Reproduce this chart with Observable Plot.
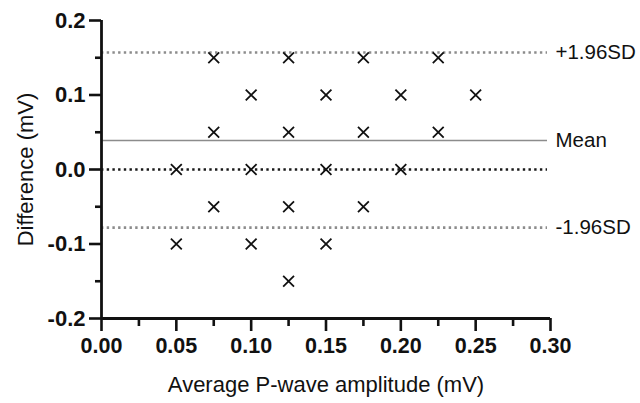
<!DOCTYPE html>
<html>
<head>
<meta charset="utf-8">
<script src="https://cdn.jsdelivr.net/npm/d3@7"></script>
<script src="https://cdn.jsdelivr.net/npm/@observablehq/plot@0.6"></script>
<style>
  html, body { margin: 0; padding: 0; background: #fff; }
  #chart { width: 640px; height: 403px; }
</style>
</head>
<body>
<div id="chart"></div>
<script>
// Data
const avgAmplitude = [0.075, 0.125, 0.175, 0.225, 0.10, 0.15, 0.20, 0.25, 0.075, 0.125, 0.175, 0.225, 0.05, 0.10, 0.15, 0.20, 0.075, 0.125, 0.175, 0.05, 0.10, 0.15, 0.125];
const difference   = [0.15, 0.15, 0.15, 0.15, 0.10, 0.10, 0.10, 0.10, 0.05, 0.05, 0.05, 0.05, 0.00, 0.00, 0.00, 0.00, -0.05, -0.05, -0.05, -0.10, -0.10, -0.10, -0.15];

const limitLabels = ["+1.96SD", "Mean", "-1.96SD"];
const limitValues = [0.157, 0.039, -0.078];
const limitDashed = [true, false, true];

const xTicks = [0, 0.05, 0.10, 0.15, 0.20, 0.25, 0.30];
const xTickLabels = ["0.00", "0.05", "0.10", "0.15", "0.20", "0.25", "0.30"];
const xMinorTicks = [0.025, 0.075, 0.125, 0.175, 0.225, 0.275];
const yTicks = [-0.2, -0.1, 0, 0.1, 0.2];
const yTickLabels = ["-0.2", "-0.1", "0.0", "0.1", "0.2"];
const yMinorTicks = [-0.15, -0.05, 0.05, 0.15];

const xTitle = "Average P-wave amplitude (mV)";
const yTitle = "Difference (mV)";

const points = avgAmplitude.map((x, i) => ({x, y: difference[i]}));
const limits = limitValues.map((v, i) => ({value: v, label: limitLabels[i], dashed: limitDashed[i]}));

const font = "'Liberation Sans', Arial, Helvetica, sans-serif";

const chart = Plot.plot({
  width: 640,
  height: 403,
  marginLeft: 101,
  marginRight: 90,
  marginTop: 20,
  marginBottom: 85,
  style: {fontFamily: font, fontSize: "21px", color: "#111", background: "#fff"},
  x: {domain: [0, 0.3]},
  y: {domain: [-0.2, 0.2]},
  marks: [
    // zero reference line (dotted black)
    Plot.ruleY([0], {stroke: "#1a1a1a", strokeWidth: 2.6, strokeDasharray: "2.4,3.3", insetRight: 3}),
    // limits of agreement and mean
    Plot.ruleY(limits.filter(d => d.dashed), {y: "value", stroke: "#8c8c8c", strokeWidth: 2.6, strokeDasharray: "2.4,3.3", insetRight: 3}),
    Plot.ruleY(limits.filter(d => !d.dashed), {y: "value", stroke: "#8c8c8c", strokeWidth: 1.5, insetRight: 3}),
    Plot.text(limits, {x: 0.3, y: "value", text: "label", textAnchor: "start", dx: 5, fontSize: 20.5, fill: "#111"}),
    // data points
    Plot.dot(points, {x: "x", y: "y", symbol: "times", r: 5, stroke: "#111", strokeWidth: 1.8}),
    // axes
    Plot.axisX(xMinorTicks, {tickSize: 8, text: null, label: null, strokeWidth: 2.6, stroke: "#111"}),
    Plot.axisX(xTicks, {tickSize: 13, tickPadding: 6, label: null, strokeWidth: 2.6, stroke: "#111",
      tickFormat: (d, i) => xTickLabels[i], fontWeight: "bold", fontSize: 21.5, fill: "#111"}),
    Plot.axisY(yMinorTicks, {tickSize: 6, text: null, label: null, strokeWidth: 2.6, stroke: "#111"}),
    Plot.axisY(yTicks, {tickSize: 12, tickPadding: 4, label: null, strokeWidth: 2.6, stroke: "#111",
      tickFormat: (d, i) => yTickLabels[i], fontWeight: "bold", fontSize: 22, fill: "#111"}),
    Plot.ruleX([0], {stroke: "#111", strokeWidth: 2.8}),
    Plot.ruleY([-0.2], {stroke: "#111", strokeWidth: 2.8}),
    // axis titles
    Plot.text([xTitle], {frameAnchor: "bottom", dy: 66, lineAnchor: "middle", fontSize: 22, fill: "#111"}),
    Plot.text([yTitle], {frameAnchor: "left", dx: -76, rotate: -90, textAnchor: "middle", lineAnchor: "middle", fontSize: 22, fill: "#111"})
  ]
});
document.getElementById("chart").appendChild(chart);
</script>
</body>
</html>
